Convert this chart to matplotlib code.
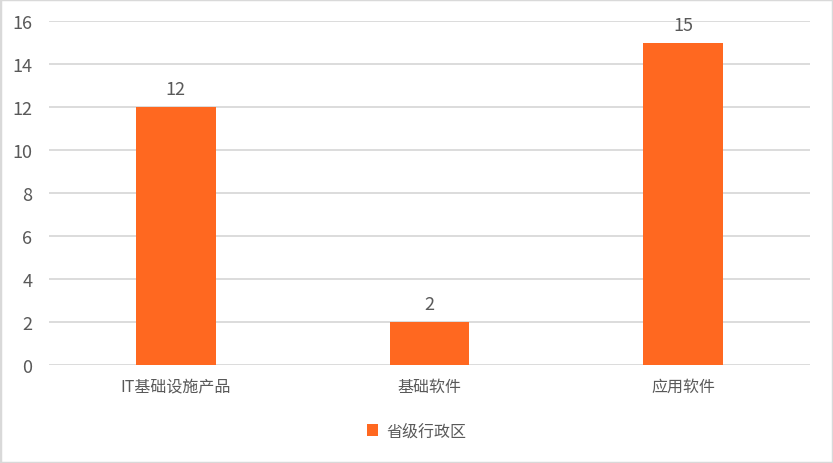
import numpy as np
import matplotlib.pyplot as plt
from matplotlib.patches import Rectangle

plt.rcParams['font.family'] = ['Noto Sans CJK SC', 'DejaVu Sans']

categories = ["IT基础设施产品", "基础软件", "应用软件"]
values = [12, 2, 15]
series_name = "省级行政区"
yticks = [0, 2, 4, 6, 8, 10, 12, 14, 16]

bar_color = "#FF6820"
text_color = "#595959"
grid_color = "#D9D9D9"

fig = plt.figure(figsize=(8.33, 4.64), dpi=100)
ax = fig.add_axes([49 / 833, 1 - 366 / 464, 761 / 833, 344 / 464])

x = np.arange(len(categories))
bars = ax.bar(x, values, width=0.315, color=bar_color, zorder=3, label=series_name)

for xi, v in zip(x, values):
    ax.text(xi, v + 0.4, str(v), ha="center", va="bottom", fontsize=13, color=text_color)

ax.set_xlim(-0.5, len(categories) - 0.5)
ax.set_ylim(0, 16)
ax.set_yticks(yticks)
ax.set_yticklabels([str(t) for t in yticks], fontsize=13)
ax.set_xticks(x)
ax.set_xticklabels(categories, fontsize=11.5)
ax.tick_params(axis="both", length=0, colors=text_color)
ax.tick_params(axis="y", pad=12)
ax.tick_params(axis="x", pad=9)
ax.yaxis.grid(True, color=grid_color, linewidth=1.3, zorder=0)
ax.set_axisbelow(True)
for s in ax.spines.values():
    s.set_visible(False)

leg = fig.legend(handles=[bars], labels=[series_name], loc="center", bbox_to_anchor=(0.5, 1 - 432 / 464),
                 frameon=False, fontsize=11.5, handlelength=0.7, handleheight=0.7, handletextpad=0.5)
for t in leg.get_texts():
    t.set_color(text_color)

fig.patches.append(Rectangle((0, 0), 1, 1, transform=fig.transFigure, fill=False,
                             edgecolor=grid_color, linewidth=2.5))

fig.savefig("out.png", dpi=100)
